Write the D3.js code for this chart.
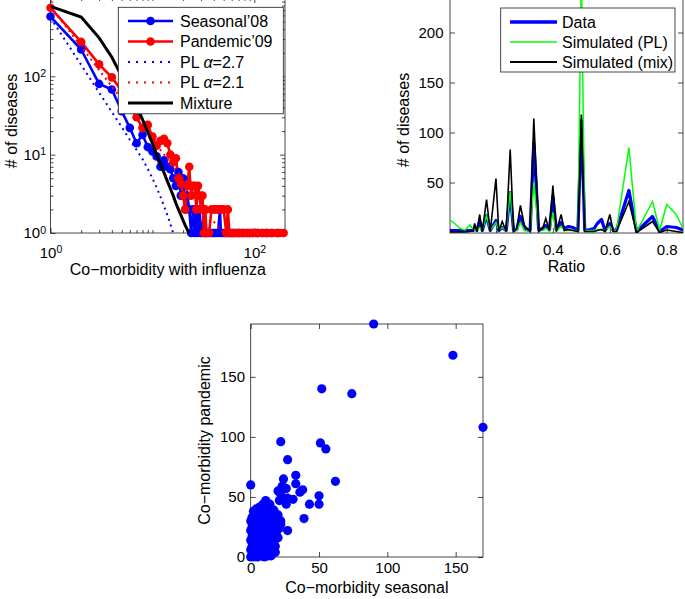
<!DOCTYPE html>
<html><head><meta charset="utf-8">
<script src="https://cdn.jsdelivr.net/npm/d3@7"></script>
<style>body{margin:0;background:#fff}</style>
</head><body>
<svg id="c" width="685" height="599"></svg>
<script>
// ---------- Panel A: degree distributions (log-log) ----------
const seasonalX = [1,2,3,4,5,6,7,8,9,10,11,12,13,14,15,16,17,18,19,20,21,22,23,24,25,26,27,28,29,30,31,32,33,34,36,38,40,42,44,46,47,49,52,55,58,61,64,68,72,77,85,90,96,108,120,130,148,170];
const seasonalY = [580,220,80,68,36,22,14,18,12.5,11,9.5,7,8.5,7,6.5,5,4,6,3,5,2,3,2,1,2,1,2,1,2,1,1,2,1,1,1,1,1,1,1,2,1,1,1,1,1,1,1,1,1,1,1,1,1,1,1,1,1,1];
const pandemicX = [1,2,3,4,5,6,7,8,9,10,11,12,13,14,15,16,17,18,19,20,21,22,23,24,25,26,27,28,29,30,31,32,33,34,36,38,40,42,44,47,50,53,55,57,60,62,66,70,72,76,80,84,90,96,104,108,118,133,136,150,165,176,194];
const pandemicY = [750,275,142,97,65,42,30,22,24,17,13,15,16,14,10,8,9,5,4.3,3,2,4,7,3,4,4,2,4,3,2,3,1,2,1,1,2,2,2,2,2,2,1,2,1,1,1,1,1,1,1,1,1,1,1,1,1,1,1,1,1,1,1,1];
const plSeasonalX = [1,2,3,4,5,6,7,8,9,10,11,12,13,14,15,16,17];
const plSeasonalY = [560,140,62,35,22.5,15.5,11.5,8.8,6.6,5,3.8,2.9,2.2,1.7,1.3,1.0,0.85];
const plPandemicX = [1,2,3,4,5,6,8,10,13,16,20,25,30,40,50];
const plPandemicY = [780,240,120,74,50,37,23,15.6,10,7.2,4.9,3.3,2.4,1.4,1.0];
const mixtureX = [1,2,3,4,5,6,7,8,9,10,11,12,13,14,15,16,17,18,19,20,21,22,23];
const mixtureY = [780,570,310,175,100,64,42,28,19.5,14,10,7.6,5.9,4.6,3.7,3.0,2.4,2.0,1.7,1.45,1.25,1.1,1.0];
const legendA = ["Seasonal\u201908","Pandemic\u201909","PL \u03b1=2.7","PL \u03b1=2.1","Mixture"];

// ---------- Panel B: ratio histogram ----------
const ratioX   = [0.0386,0.055,0.074,0.091,0.109,0.12,0.125,0.133,0.143,0.152,0.167,0.18,0.2,0.21,0.222,0.236,0.25,0.262,0.273,0.286,0.3,0.32,0.333,0.35,0.364,0.375,0.388,0.4,0.412,0.429,0.44,0.455,0.47,0.488,0.5,0.512,0.53,0.545,0.556,0.571,0.583,0.6,0.612,0.623,0.667,0.694,0.75,0.775,0.8,0.833,0.857];
const dataCounts = [2,2,2,2,2,2,5,2,11,2,17,2,12,2,5,2,40,2,3,16,4,2,90,3,4,7,3,36,3,10,4,6,5,2,112,2,3,4,9,13,2,9,2,2,42,1,16,1,6,5,2.5];
const simPL      = [12.5,9,4,2.5,7.5,2.5,3,2,5,2,17,2,10,2,5,2,41,2,2,10,2,1,50,2,2,4,1,20,1,6,2,2,2,2,260,2,2,2,3,3,2,6,2,2,85,1,31,2.5,28,18,4];
const simMix     = [0.5,0.5,0.5,0.5,1,2,9,1,18,1,33,1,54,1,11,1,83,1,4,27,7,1,114,1,4,14,2,47,1,18,2,3,2,1,118,1,1,1,2,3,1,18,1,1,31,0,11,0,2.5,1,0];
const legendB = ["Data","Simulated (PL)","Simulated (mix)"];

// ---------- Panel C: scatter ----------
const coSeasonal = [90,148,170,52,74,22,27,51,55,0,62,24,33,33,23,20,36,38,31,21,26,50,50,43,39,27,18,24,26,22,27,
 0,1,2,3,4,5,6,7,8,9,10,11,12,13,14,15,
 0,1,2,3,4,5,6,7,8,9,10,11,12,13,14,15,16,17,18,
 0,1,2,3,4,5,6,7,8,9,10,11,12,13,14,15,16,17,18,19,20,
 0,1,2,3,4,5,6,7,8,9,10,11,12,13,14,15,16,17,18,19,21,22,
 0,1,2,3,4,5,6,7,8,9,10,11,12,13,14,15,16,17,18,19,20,22,
 2,4,6,7,8,9,10,11,12,13,14,15,16,17];
const coPandemic = [194,168,108,140,136,96,81,95,90,60,63,65,68,61,59,55,54,56,48,47,44,51,44,44,32,22,4,58,57,52,49,
 0,2,0,3,1,0,2,4,1,3,0,2,5,1,3,1,
 6,9,7,11,8,12,6,10,8,12,7,10,9,12,8,11,7,10,9,
 14,17,13,19,15,18,14,16,20,15,18,14,17,20,15,18,14,17,15,18,16,
 22,25,21,27,23,26,22,28,24,21,26,23,27,22,25,21,27,23,26,22,24,27,
 30,33,29,35,31,34,30,36,32,29,35,31,34,30,36,32,29,34,31,33,35,30,
 38,40,37,42,39,44,40,47,42,38,44,40,37,39];

const FONT = "'Liberation Sans', Arial, Helvetica, sans-serif";
const svg = d3.select("#c");
const AX = "#1a1a1a";

function styleAxis(ag, fs){
  ag.select(".domain").remove();
  ag.selectAll("line").attr("stroke", AX).attr("stroke-width", 0.8);
  ag.attr("font-family", FONT).attr("font-size", fs || 15);
  ag.selectAll("text").attr("fill", "#000");
  return ag;
}
function frame(L,R,T,B){
  svg.append("rect").attr("x",L).attr("y",T).attr("width",R-L).attr("height",B-T)
    .attr("fill","none").attr("stroke",AX).attr("stroke-width",0.8);
}
function clip(id,L,R,T,B){
  svg.append("clipPath").attr("id",id).append("rect").attr("x",L).attr("y",T).attr("width",R-L).attr("height",B-T);
}
function supLabels(ag, expOf){
  ag.selectAll(".tick text").each(function(d){
    const t = d3.select(this); t.text(null);
    t.append("tspan").text("10");
    t.append("tspan").attr("dy","-0.45em").attr("font-size",10.5).text(expOf(d));
  });
}

// ================= PANEL A =================
const aL=50.5, aR=285, aT=-2, aB=233;
const xA = d3.scaleLog().domain([1,200]).range([aL,aR]);
const yA = d3.scaleLog().domain([1,1000]).range([aB,aT]);
clip("clipA",aL,aR,aT,aB);
const minorX = [2,3,4,5,6,7,8,9,10,20,30,40,50,60,70,80,90];
const minorY = [2,3,4,5,6,7,8,9,20,30,40,50,60,70,80,90,200,300,400,500,600,700,800,900];
// minor ticks
styleAxis(svg.append("g").attr("transform",`translate(0,${aB})`).call(d3.axisBottom(xA).tickValues(minorX).tickSizeInner(-3).tickSizeOuter(0).tickFormat("")));
styleAxis(svg.append("g").attr("transform",`translate(0,${aT})`).call(d3.axisTop(xA).tickValues(minorX).tickSizeInner(-3).tickSizeOuter(0).tickFormat("")));
styleAxis(svg.append("g").attr("transform",`translate(${aL},0)`).call(d3.axisLeft(yA).tickValues(minorY).tickSizeInner(-3).tickSizeOuter(0).tickFormat("")));
styleAxis(svg.append("g").attr("transform",`translate(${aR},0)`).call(d3.axisRight(yA).tickValues(minorY).tickSizeInner(-3).tickSizeOuter(0).tickFormat("")));
// major ticks
const axA_b = styleAxis(svg.append("g").attr("transform",`translate(0,${aB})`).call(d3.axisBottom(xA).tickValues([1,100]).tickSizeInner(-5).tickSizeOuter(0).tickPadding(14.3)));
supLabels(axA_b, d=>String(Math.round(Math.log10(d))));
styleAxis(svg.append("g").attr("transform",`translate(0,${aT})`).call(d3.axisTop(xA).tickValues([1,100]).tickSizeInner(-5).tickSizeOuter(0).tickFormat("")));
const axA_l = styleAxis(svg.append("g").attr("transform",`translate(${aL},0)`).call(d3.axisLeft(yA).tickValues([1,10,100]).tickSizeInner(-5).tickSizeOuter(0).tickPadding(4.5)));
supLabels(axA_l, d=>String(Math.round(Math.log10(d))));
styleAxis(svg.append("g").attr("transform",`translate(${aR},0)`).call(d3.axisRight(yA).tickValues([1,10,100]).tickSizeInner(-5).tickSizeOuter(0).tickFormat("")));
frame(aL,aR,aT,aB);

const lineA = (xs,ys)=> d3.line().x((d,i)=>xA(xs[i])).y((d,i)=>yA(ys[i]))(ys);
const gA = svg.append("g").attr("clip-path","url(#clipA)");
function seriesA(xs,ys,color){
  gA.append("path").attr("d",lineA(xs,ys)).attr("fill","none").attr("stroke",color).attr("stroke-width",2.6).attr("stroke-linejoin","round");
  svg.append("g").selectAll("circle").data(ys).join("circle")
    .attr("cx",(d,i)=>xA(xs[i])).attr("cy",d=>yA(d)).attr("r",4.3).attr("fill",color);
}
seriesA(seasonalX,seasonalY,"#0000ff");
seriesA(pandemicX,pandemicY,"#ff0000");
const gA2 = svg.append("g").attr("clip-path","url(#clipA)");
gA2.append("path").attr("d",lineA(plSeasonalX,plSeasonalY)).attr("fill","none").attr("stroke","#0000ff").attr("stroke-width",2).attr("stroke-dasharray","2,4");
gA2.append("path").attr("d",lineA(plPandemicX,plPandemicY)).attr("fill","none").attr("stroke","#ff0000").attr("stroke-width",2).attr("stroke-dasharray","2,4");
gA2.append("path").attr("d",lineA(mixtureX,mixtureY)).attr("fill","none").attr("stroke","#000").attr("stroke-width",3);

// legend A
const lgA = svg.append("g");
lgA.append("rect").attr("x",118.3).attr("y",7.3).attr("width",165).attr("height",106.5).attr("fill","#fff").attr("stroke",AX).attr("stroke-width",0.8);
const lgAstyle = [
  {c:"#0000ff",w:2.6,dash:null,m:true},{c:"#ff0000",w:2.6,dash:null,m:true},
  {c:"#0000ff",w:2,dash:"2,6",m:false},{c:"#ff0000",w:2,dash:"2,6",m:false},{c:"#000",w:3,dash:null,m:false}];
legendA.forEach((lab,i)=>{
  const y = 21 + i*20.5;
  const s = lgAstyle[i];
  lgA.append("line").attr("x1",128).attr("x2",173).attr("y1",y).attr("y2",y).attr("stroke",s.c).attr("stroke-width",s.w).attr("stroke-dasharray",s.dash);
  if(s.m) lgA.append("circle").attr("cx",150.5).attr("cy",y).attr("r",4.3).attr("fill",s.c);
  const t = lgA.append("text").attr("x",180).attr("y",y+5.6).attr("font-family",FONT).attr("font-size",16).attr("fill","#000");
  if(lab.indexOf("\u03b1")>=0){
    const parts = lab.split("\u03b1");
    t.append("tspan").text(parts[0]);
    t.append("tspan").attr("font-style","italic").text("\u03b1");
    t.append("tspan").text(parts[1]);
  } else t.text(lab);
});
svg.append("text").attr("x",(aL+aR)/2).attr("y",275).attr("text-anchor","middle").attr("font-family",FONT).attr("font-size",16).text("Co\u2212morbidity with influenza");
svg.append("text").attr("transform","translate(17,121) rotate(-90)").attr("text-anchor","middle").attr("font-family",FONT).attr("font-size",16).text("# of diseases");

// ================= PANEL B =================
const bL=450, bR=683, bT=-17.5, bB=233;
const xB = d3.scaleLinear().domain([0.0386,0.857]).range([bL,bR]);
const yB = d3.scaleLinear().domain([0,250]).range([232.5,-17.5]);
clip("clipB",bL,bR,bT,bB);
styleAxis(svg.append("g").attr("transform",`translate(0,${bB})`).call(d3.axisBottom(xB).tickValues([0.2,0.4,0.6,0.8]).tickSizeInner(-5).tickSizeOuter(0).tickPadding(11.5).tickFormat(d3.format(".1f"))));
styleAxis(svg.append("g").attr("transform",`translate(0,${bT})`).call(d3.axisTop(xB).tickValues([0.2,0.4,0.6,0.8]).tickSizeInner(-5).tickSizeOuter(0).tickFormat("")));
styleAxis(svg.append("g").attr("transform",`translate(${bL},0)`).call(d3.axisLeft(yB).tickValues([50,100,150,200]).tickSizeInner(-5).tickSizeOuter(0).tickPadding(6.5)));
styleAxis(svg.append("g").attr("transform",`translate(${bR},0)`).call(d3.axisRight(yB).tickValues([50,100,150,200]).tickSizeInner(-5).tickSizeOuter(0).tickFormat("")));
frame(bL,bR,bT,bB);
const lineB = ys => d3.line().x((d,i)=>xB(ratioX[i])).y(d=>yB(d))(ys);
const gB = svg.append("g").attr("clip-path","url(#clipB)");
gB.append("path").attr("d",lineB(dataCounts)).attr("fill","none").attr("stroke","#0000ff").attr("stroke-width",3.2).attr("stroke-linejoin","round");
gB.append("path").attr("d",lineB(simPL)).attr("fill","none").attr("stroke","#00ff00").attr("stroke-width",1.5);
gB.append("path").attr("d",lineB(simMix)).attr("fill","none").attr("stroke","#000").attr("stroke-width",1.6);
const lgB = svg.append("g");
lgB.append("rect").attr("x",500.7).attr("y",8).attr("width",174.3).attr("height",64).attr("fill","#fff").attr("stroke",AX).attr("stroke-width",0.8);
const lgBstyle = [{c:"#0000ff",w:3.5},{c:"#00ff00",w:1.5},{c:"#000",w:2}];
legendB.forEach((lab,i)=>{
  const y = 22 + i*20;
  lgB.append("line").attr("x1",510).attr("x2",557).attr("y1",y).attr("y2",y).attr("stroke",lgBstyle[i].c).attr("stroke-width",lgBstyle[i].w);
  lgB.append("text").attr("x",562).attr("y",y+5.6).attr("font-family",FONT).attr("font-size",16).attr("fill","#000").text(lab);
});
svg.append("text").attr("x",(bL+bR)/2).attr("y",271.5).attr("text-anchor","middle").attr("font-family",FONT).attr("font-size",16).text("Ratio");
svg.append("text").attr("transform","translate(409,120) rotate(-90)").attr("text-anchor","middle").attr("font-family",FONT).attr("font-size",16).text("# of diseases");

// ================= PANEL C =================
const cL=250.7, cR=483, cT=324, cB=557;
const xC = d3.scaleLinear().domain([0,170]).range([cL,cR]);
const yC = d3.scaleLinear().domain([0,194]).range([cB,cT]);
const tC = [0,50,100,150];
styleAxis(svg.append("g").attr("transform",`translate(0,${cB})`).call(d3.axisBottom(xC).tickValues(tC).tickSizeInner(-5).tickSizeOuter(0).tickPadding(5.5)));
styleAxis(svg.append("g").attr("transform",`translate(0,${cT})`).call(d3.axisTop(xC).tickValues(tC).tickSizeInner(-5).tickSizeOuter(0).tickFormat("")));
styleAxis(svg.append("g").attr("transform",`translate(${cL},0)`).call(d3.axisLeft(yC).tickValues(tC).tickSizeInner(-5).tickSizeOuter(0).tickPadding(5.7)));
styleAxis(svg.append("g").attr("transform",`translate(${cR},0)`).call(d3.axisRight(yC).tickValues(tC).tickSizeInner(-5).tickSizeOuter(0).tickFormat("")));
frame(cL,cR,cT,cB);
svg.append("g").selectAll("circle").data(coSeasonal).join("circle")
  .attr("cx",d=>xC(d)).attr("cy",(d,i)=>yC(coPandemic[i])).attr("r",4.6).attr("fill","#0000ff");
svg.append("text").attr("x",(cL+cR)/2).attr("y",593).attr("text-anchor","middle").attr("font-family",FONT).attr("font-size",16).text("Co\u2212morbidity seasonal");
svg.append("text").attr("transform","translate(210,440.5) rotate(-90)").attr("text-anchor","middle").attr("font-family",FONT).attr("font-size",16).text("Co\u2212morbidity pandemic");
</script>
</body></html>
